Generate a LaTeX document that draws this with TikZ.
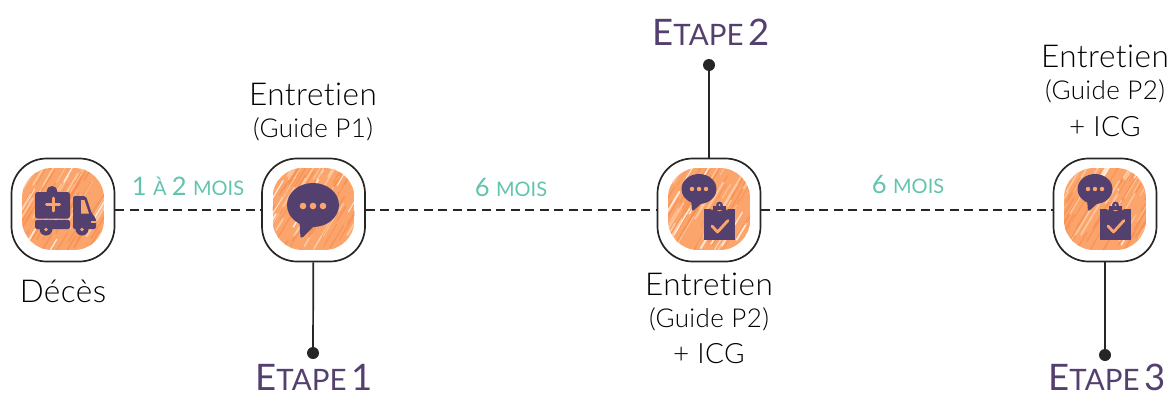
\documentclass[tikz,border=0pt]{standalone}
\usepackage{fontspec}
\setmainfont{Lato}[UprightFont=* Light,Ligatures={NoCommon,NoRare},LetterSpace=1.5]
\newfontfamily\headfont{Lato}[Ligatures={NoCommon,NoRare}]
\definecolor{plum}{HTML}{54406F}
\definecolor{peach}{HTML}{FBA56C}
\definecolor{peachl}{HTML}{FFD3B0}
\definecolor{peachd}{HTML}{F98F50}
\definecolor{teal2}{HTML}{62C3AE}
\definecolor{ink}{HTML}{262626}
\tikzset{
  framebox/.style={draw=ink,line width=1.7pt,fill=white,rounded corners=35pt,minimum width=103pt,minimum height=103pt,inner sep=0pt},
  enddot/.style={circle,fill=ink,minimum size=12pt,inner sep=0pt},
  dashlink/.style={draw=ink,line width=1.5pt,dash pattern=on 9pt off 5.5pt},
  solidlink/.style={draw=ink,line width=1.7pt},
  maintext/.style={text=black,font=\fontsize{31.5}{33}\selectfont,inner sep=0pt},
  guidetext/.style={text=black,font=\fontsize{26}{28}\selectfont,inner sep=0pt},
  steptext/.style={text=plum,inner sep=0pt,anchor=base,font=\headfont},
  delaytext/.style={text=teal2,inner sep=0pt,font=\headfont},
}
\newcommand{\scribbled}[3]{%
  \begin{scope}[shift={(#1,#2)}]
    \begin{scope}
      \clip[rounded corners=30pt] (-41,-41) rectangle (41,41);
      \fill[peach] (-41,-41) rectangle (41,41);
      \pgfmathsetseed{#3}
      \foreach \i in {1,...,170} {
        \pgfmathsetmacro{\ox}{-80+160*rnd}
        \pgfmathsetmacro{\oy}{-45+90*rnd}
        \pgfmathsetmacro{\len}{10+25*rnd}
        \pgfmathsetmacro{\lw}{.7+1.3*rnd}
        \pgfmathsetmacro{\pick}{rnd}
        \ifdim\pick pt<.55pt\def\cc{peachd}\else\ifdim\pick pt<.88pt\def\cc{peachl}\else\def\cc{white}\fi\fi
        \draw[\cc,line width=\lw pt,line cap=round,opacity=.75] (\ox,\oy) -- ++(.6*\len,-\len);
      }
    \end{scope}
  \end{scope}}
\newcommand{\bubblelarge}[2]{%
  \begin{scope}[shift={(#1,#2)}]
    \fill[plum] (0,-5) ellipse [x radius=26,y radius=22];
    \fill[plum,rounded corners=1pt] (-14,6) -- (-12.5,27.5) -- (-10.5,27.5) -- (3,14) -- cycle;
    \foreach \x in {-10,0,10} \fill[peach] (\x,-4) circle (3.3);
  \end{scope}}
\newcommand{\bubbleclip}[2]{%
  \begin{scope}[shift={(#1,#2)}]
    \fill[plum] (-10,-20) ellipse [x radius=17.5,y radius=15];
    \fill[plum,rounded corners=.6pt] (-18,-10) -- (-17,1.5) -- (-15.5,1.5) -- (-6,-7) -- cycle;
    \foreach \x in {-17,-10,-3} \fill[peach] (\x,-20) circle (2.2);
    \fill[plum] (-5,0) rectangle (26,31);
    \draw[peach,line width=1.4pt] (3,1) -- (3,-1.5) -- (7.5,-1.5) arc (180:0:3) -- (18,-1.5) -- (18,1);
    \fill[plum] (3.7,-3) rectangle (17.3,1);
    \fill[plum] (10.5,-4) circle (3.4);
    \fill[peach] (10.5,-4) circle (1.2);
    \draw[peach,line width=2.8pt,line cap=round,line join=round] (3,17) -- (8.5,23) -- (19,11.5);
  \end{scope}}
\newcommand{\ambulance}[2]{%
  \begin{scope}[shift={(#1,#2)}]
    \fill[plum] (-11,-18.5) circle (5.5);
    \fill[plum,rounded corners=2.5pt] (-28,-18) rectangle (7,8.5);
    \fill[plum,rounded corners=2pt] (-28,10) -- (7,10) -- (7,19) -- (-28,19) -- cycle;
    \fill[plum,rounded corners=2pt] (10,-14) -- (23,-14) -- (29,4) -- (33,8) -- (33,19) -- (10,19) -- cycle;
    \fill[peach] (18,-10) -- (21.5,-10) -- (26,3.5) -- (18,3.5) -- cycle;
    \fill[peach] (28,11) rectangle (33,13);
    \draw[peach,line width=3pt,line cap=round] (-10,-12) -- (-10,1) (-16.5,-5.5) -- (-3.5,-5.5);
    \foreach \x in {-17,19} {\fill[plum] (\x,19) circle (6.5); \fill[peach] (\x,19.5) circle (1.8);}
  \end{scope}}
\begin{document}
\begin{tikzpicture}[x=1pt,y=-1pt]
\useasboundingbox (0,0) rectangle (1171,394);
\node[framebox] (n1) at (63,210) {};
\node[framebox] (n2) at (313.5,210) {};
\node[framebox] (n3) at (709,210) {};
\node[framebox] (n4) at (1105,210) {};
\node[enddot] (d1) at (313,353) {};
\node[enddot] (d2) at (709,65) {};
\node[enddot] (d3) at (1105,355) {};
\draw[dashlink] (n1) -- (n2);
\draw[dashlink] (n2) -- (n3);
\draw[dashlink] (n3) -- (n4);
\draw[solidlink] (n2) -- (d1);
\draw[solidlink] (n3) -- (d2);
\draw[solidlink] (n4) -- (d3);
\scribbled{63}{209}{11}\ambulance{63}{210}
\scribbled{313.5}{209}{22}\bubblelarge{313}{210}
\scribbled{709}{209}{33}\bubbleclip{709}{209}
\scribbled{1105}{209}{44}\bubbleclip{1105}{209}
\node[maintext] (t1) at (63,291) {Décès};
\node[maintext] (t2) at (313,94) {Entretien};
\node[guidetext] (t3) at (313,129) {(Guide P1)};
\node[maintext] (t4) at (709,284) {Entretien};
\node[guidetext] (t5) at (709,319) {(Guide P2)};
\node[maintext,font=\fontsize{28}{30}\selectfont] (t6) at (709,354) {+ ICG};
\node[maintext] (t7) at (1105,56) {Entretien};
\node[guidetext] (t8) at (1105,91) {(Guide P2)};
\node[maintext,font=\fontsize{28}{30}\selectfont] (t9) at (1105,127) {+ ICG};
\newcommand{\etape}[1]{\fontsize{36.5}{39}\selectfont E\fontsize{29.5}{32}\selectfont TAPE\,\fontsize{36.5}{39}\selectfont #1}
\node[steptext] (s1) at (314,390) {\etape{1}};
\node[steptext] (s2) at (711,45) {\etape{2}};
\node[steptext] (s3) at (1107,390) {\etape{3}};
\newcommand{\delaytxt}[1]{\fontsize{25.5}{28}\selectfont #1 \fontsize{20}{22}\selectfont MOIS}
\node[delaytext] (l1) at (188,186) {\fontsize{25.5}{28}\selectfont 1 \fontsize{20}{22}\selectfont À \fontsize{25.5}{28}\selectfont 2 \fontsize{20}{22}\selectfont MOIS};
\node[delaytext] (l2) at (511,187) {\delaytxt{6}};
\node[delaytext] (l3) at (908,184) {\delaytxt{6}};
\end{tikzpicture}
\end{document}
